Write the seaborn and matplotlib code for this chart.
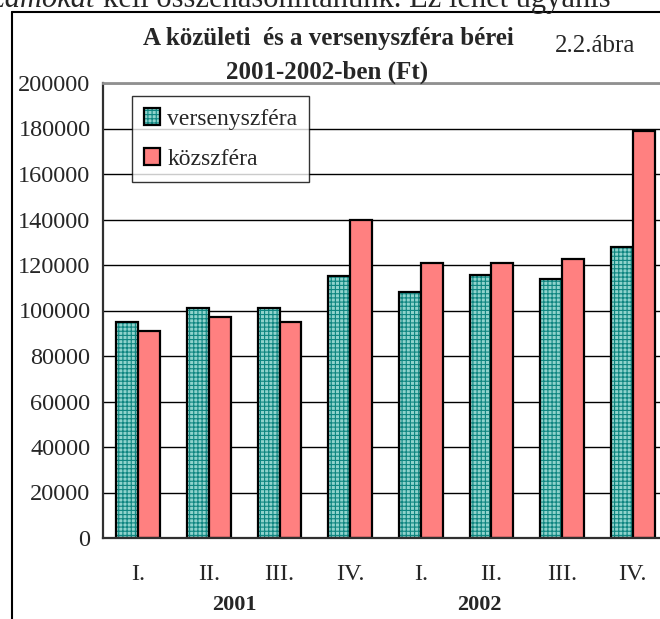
import matplotlib
matplotlib.use("Agg")
import numpy as np
import pandas as pd
import matplotlib.pyplot as plt
import seaborn as sns
from matplotlib.colors import to_rgba
from matplotlib.lines import Line2D
from matplotlib.transforms import blended_transform_factory

# data
quarters = ["I.", "II.", "III.", "IV.", "I.", "II.", "III.", "IV."]
years = ["2001", "2002"]
verseny = [95000, 101000, 101000, 115000, 108000, 115500, 114000, 128000]
kozszfera = [91000, 97000, 95000, 140000, 121000, 121000, 122500, 179000]
series = ["versenyszféra", "közszféra"]
yticks = [0, 20000, 40000, 60000, 80000, 100000, 120000, 140000, 160000, 180000, 200000]

# unique keys so the repeated quarter names stay separate categories
keys = [f"{years[i // 4]} {q}" for i, q in enumerate(quarters)]
df = pd.DataFrame({
    "key": keys * 2,
    "ber": verseny + kozszfera,
    "szfera": [series[0]] * 8 + [series[1]] * 8,
})

sns.set_style("white")
plt.rcParams["font.family"] = ["Liberation Serif", "DejaVu Serif"]
plt.rcParams["hatch.linewidth"] = 0.8

fig = plt.figure(figsize=(6.6, 6.19), dpi=100)
ax = fig.add_axes([103 / 660, 81 / 619, 565 / 660, 455 / 619])

sns.barplot(data=df, x="key", y="ber", hue="szfera", order=keys,
            hue_order=series, palette=["#8fd3cc", "#ff8080"], saturation=1,
            width=0.62, edgecolor="black", linewidth=1.6, legend=False, ax=ax)

# teal cross-hatch on the first series, black outline kept
for p in ax.containers[0]:
    p.set_hatch("++++")
    p._hatch_color = to_rgba("#0e8580")

ax.set_xlim(-0.5, 7.5)
ax.set_ylim(0, 200000)
ax.set_yticks(yticks)
ax.set_yticklabels([str(v) for v in yticks], fontsize=17.5)
ax.grid(axis="y", color="black", linewidth=1)
ax.set_axisbelow(True)

centers = np.arange(len(quarters))
ax.set_xticks(centers)
ax.set_xticklabels(quarters, fontsize=17.5)
ax.set_xticks(np.arange(len(quarters) + 1) - 0.5, minor=True)
ax.tick_params(axis="x", which="major", length=0, pad=19)
ax.tick_params(axis="x", which="minor", length=7, width=1, color="black", direction="out")
ax.tick_params(axis="y", length=6, width=1, color="black", direction="out", pad=3)
ax.set_xlabel("")
ax.set_ylabel("")

for side in ["left", "bottom"]:
    ax.spines[side].set_color("#303030")
    ax.spines[side].set_linewidth(1.6)
ax.spines["top"].set_color("#909090")
ax.spines["top"].set_linewidth(2)
ax.spines["right"].set_visible(False)

# year labels under the quarter labels
trans = blended_transform_factory(ax.transData, ax.transAxes)
ax.text(1.36, -0.147, years[0], transform=trans, ha="center", va="center",
        fontsize=16, fontweight="bold")
ax.text(4.83, -0.147, years[1], transform=trans, ha="center", va="center",
        fontsize=16, fontweight="bold")

leg = ax.legend(ax.containers, series, loc="upper left",
                bbox_to_anchor=(0.051, 0.971), borderaxespad=0, fontsize=17,
                frameon=True, fancybox=False, edgecolor="black",
                handlelength=0.7, handleheight=0.7, handletextpad=0.3,
                labelspacing=0.8, borderpad=0.5)
leg.get_frame().set_linewidth(1)

fig.text(0.497, 1 - 38 / 619, "A közületi  és a versenyszféra bérei",
         ha="center", va="center", fontsize=18, fontweight="bold")
fig.text(0.495, 1 - 72 / 619, "2001-2002-ben (Ft)",
         ha="center", va="center", fontsize=18, fontweight="bold")
fig.text(555 / 660, 1 - 46 / 619, "2.2.ábra", ha="left", va="center", fontsize=18)

# running text of the page, cut by the crop
fig.text(95 / 660, 1 - 7 / 619, "számokat", ha="right", va="baseline",
         fontsize=22, style="italic")
fig.text(103 / 660, 1 - 7 / 619, "kell összehasonlítanunk. Ez lehet ugyanis",
         ha="left", va="baseline", fontsize=22)

# page frame around the figure
fig.add_artist(Line2D([12 / 660, 12 / 660], [0, 1 - 12 / 619], color="black",
                      linewidth=1.5, transform=fig.transFigure))
fig.add_artist(Line2D([12 / 660, 1], [1 - 12 / 619, 1 - 12 / 619], color="black",
                      linewidth=1.5, transform=fig.transFigure))

fig.savefig("out.png", dpi=100)
